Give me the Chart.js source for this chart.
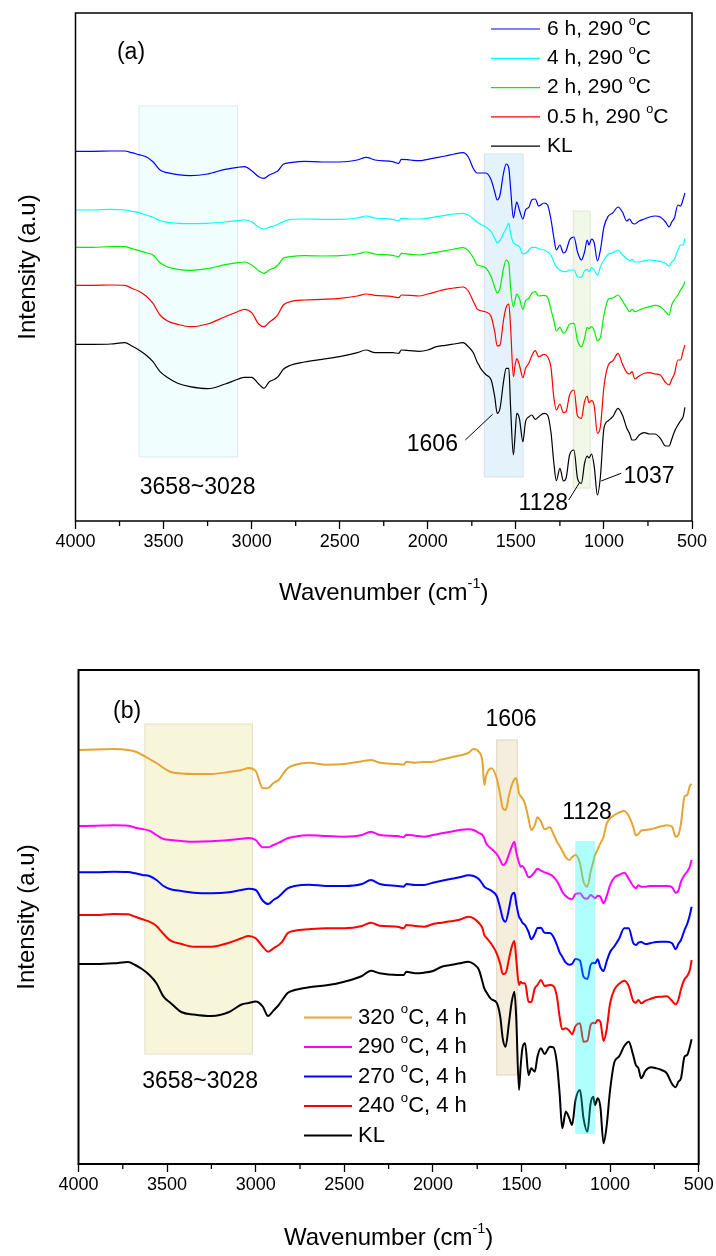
<!DOCTYPE html>
<html><head><meta charset="utf-8">
<script src="https://cdn.jsdelivr.net/npm/chart.js@4.4.1/dist/chart.umd.min.js"></script>
<style>
html,body{margin:0;padding:0;background:#fff;}
#wrap{position:relative;width:716px;height:1256px;background:#fff;}
canvas{position:absolute;left:0;}
</style></head><body>
<div id="wrap">
<canvas id="ca" width="716" height="625" style="top:0;width:716px;height:625px"></canvas>
<canvas id="cb" width="716" height="628" style="top:628px;width:716px;height:628px"></canvas>
</div>
<script>
// ---------- shared wavenumber grid (cm-1) ----------
const wavenumbers = [4000,3900,3800,3720,3680,3640,3600,3560,3520,3480,
3420,3350,3250,3150,3080,3040,3000,2960,2930,2900,
2870,2850,2820,2780,2700,2600,2500,2400,2350,2300,
2200,2165,2150,2100,2050,2000,1950,1900,1850,1800,
1770,1740,1720,1710,1700,1670,1640,1620,1606,1590,
1570,1555,1540,1530,1514,1505,1495,1480,1460,1445,
1425,1410,1390,1370,1340,1320,1300,1285,1270,1250,
1230,1215,1195,1170,1150,1128,1110,1095,1085,1070,
1055,1037,1020,1000,975,950,920,895,870,855,
840,825,800,770,740,710,680,650,630,615,
600,580,565,550,540];

// ---------- panel (a): time series at 290 C (offset intensities, a.u.) ----------
const a_6h = [368.7,368.7,369,369,367.3,365.3,363.3,358.3,350,347.3,
345.3,344.3,346,350.7,352.7,353.3,349.3,343.3,341.7,345,
347.3,349.3,355.7,357.3,358.7,358,358,360,362.7,360,
358.3,356.7,360.7,360,359.3,360.7,362.3,364,366,367.3,
363,351,347,347,347,347,340,328,320,325,
347,356,352,332,302,310,318,310,301,310,
313,320,321,314,317,315,300,283,270,275,
267,269,280,283,268,260,268,280,275,281,
277,259,270,293,304,307,313,308,299,301,
297,296,299,301,303,304,303,298,293,298,
302,315,314,321,327];
const a_4h = [310,310,310.7,310,308.7,307.3,305,302.7,299.3,297.7,
296.7,296.3,296.7,298,299.3,300,298.3,292.7,291,292.7,
294.3,295.7,298.3,300.7,301,300.7,300.7,302,304,302,
300.7,299.3,301.7,301,301,301.7,303.3,304.7,306,306.7,
305,301,298,296.7,295.7,293,288.3,281.7,277.3,279.3,
286.7,291.7,296.7,286.7,277.3,276,275,273.3,266,266.7,
270,272.7,272.7,271.3,270,268,264.7,258.3,253.3,250,
248.3,248.3,250,250,243.3,242.7,249.3,250.7,248.3,252.3,
250,244.7,253.3,260,265.7,267.3,270,265.3,261.3,259.3,
260.3,258,258,259.3,260,259.3,258.7,256.7,254,258,
260.7,270,275,275,281.7];
const a_2h = [272.7,272.7,273.3,273.3,271.3,269.3,267.3,265,257.3,253.3,
250.7,249.7,251.3,255.3,257.3,258,255,249.3,246.7,250,
252.3,255,261.7,263.3,264.3,264,264.3,266,268,266,
264.7,263.3,266.7,265.7,265,266.3,267.7,269.3,271,272.3,
269.3,261.7,255,254.5,254,252,243.3,232.7,227.3,231.7,
251.7,260,256.7,231.7,213.3,219.3,226,221.7,210.7,219.3,
222,226.7,228.3,224,224.7,222.7,210,200,189,192.7,
186.7,189,196,196.7,179.3,173.3,181.7,192.7,191.3,193.3,
189.3,179.3,182.7,205,220.7,222,225,219,212,208.3,
211,208.3,210,212,213.3,214.7,213.3,208.3,205,215,
220,225,230,234,238.3];
const a_05h = [234.7,234.7,235,234.7,231.7,228.7,224,216.7,205,199.3,
195.7,193.3,196,203.3,208.3,210.7,207.3,196,193.3,197.7,
201.7,205.7,215,218.3,220,220.7,221.7,224,226,224.7,
223.3,222.3,225,224.7,224,226,228.3,230.7,232,233,
229,218,211,210,209.3,208,203.3,188.3,174,175,
200,212.7,216,193.3,143.3,154,161.3,155,142.3,151.7,
157.3,164,169.3,163.3,165.7,163.3,151.7,123.3,110,116,
107.3,108.3,125,130,104,101.7,118.3,124,117.3,119.3,
114,86.7,93.3,133.3,155,159,166.7,156,147.3,146,
148.3,141,144,146.7,147.3,146,145,137.3,135,140.7,
146,160,160,169.3,175];
const a_KL = [175.7,175.7,176,177.3,174,170,165,158.3,148.3,142.7,
136.7,133.3,131.3,136,140.7,142.7,142.7,136,131.7,138.3,
140.7,143.3,150.7,154.7,158,160.7,163.3,167.3,170,167.3,
167.3,166.7,170,169.3,168.7,170,173.3,174.7,176,177.3,
173.3,166.7,158,155,151.7,145.3,140,123.3,106.7,111.7,
138.3,151.7,151.7,113.3,65,83.3,106.7,101.7,78.3,98.3,
103.3,105,100.7,103.3,106.7,105,86.7,58.3,39.3,51.7,
39,41.7,65,70,41.7,36.7,56.7,64,62,66,
53.3,25,43.3,91.7,99.3,103.3,111.7,105,91.7,86.7,
80,80,85,87.3,86,86,81.7,74,74,80.7,
88.3,95,99.3,103.3,112.7];

// ---------- panel (b): temperature series, 4 h ----------
const b_320 = [414,414.5,415,414,412.5,409,405,401,396,392,
390.5,390,390,392,394,396,393,375.7,376,381,
384,389,395.7,399,401.3,399.3,400,402.7,404,401.3,
400,399.3,402.3,401.3,402,402.3,404.5,406.5,408.5,411,
415,412,402,379,388,395.7,385.7,369,355.7,354,
369,379,384.7,385.7,370.7,368,365.7,360,345,334,
339,346.7,342.3,334.7,336.7,330,322.3,318,313.3,306.7,
304,306.7,309,300.7,282.3,277.3,292.3,302.3,309,314.7,
320.7,327.3,340,345.7,349,351.3,353,348,337.3,328.7,
330,333.3,334,334.7,336.3,337.7,338.7,337.3,327.3,329,
340.7,367.3,369,378,380];
const b_290 = [338,338.3,338.7,338.3,336.3,335,333.3,329,325,324,
323,322.3,322.7,324,325.3,326,324,316.7,316.7,319,
321.3,323,325.7,327.3,328.7,328,327.3,329,332.3,329,
328,326.7,329.3,328.3,327.3,329,330.7,332.3,334,334.7,
334,331,329,325.7,320.7,315.3,310,304,299,300.7,
310,317.3,322.3,312.3,301.3,297.3,298,294,286.7,288,
292,295.3,293.3,291.7,289.7,287.3,282.7,278,272.3,268,
265.3,264.7,270,270.7,266.3,265.3,269,267.3,265.7,268.3,
267.3,260.7,267.3,279,286.7,289,291.3,285.3,278,275.7,
278.7,277.3,277.3,278,278,278,278,276.7,271.3,273.3,
282.3,289,292.3,297.3,304];
const b_270 = [291.7,291.7,292.3,292,290.7,289,288,284,278,274.7,
273,271.3,270.7,271.7,274,275.3,274,263.3,260,264,
267.3,270.7,275.7,278,279.3,278,278,280,284,280,
278,277.3,280,279,279,281.3,283.3,285,286.7,288.7,
288,284.7,280,277.3,276,273.3,268,255.7,245.7,242.3,
255.7,269,271.3,260.7,247.3,244.7,241.3,239,232,224.7,
230,236,236.3,231.3,231,227.3,219,211.7,207.3,201.3,
199.3,200,205,203.3,187.3,185,199,201.3,200.7,204.7,
196.7,193,202.3,212,218,225,235.7,235.7,221.3,219,
221.3,222,220,221,222,222.3,222.3,220.7,214.7,220,
224,234,240,249,257.3];
const b_240 = [249,249,250,249.7,247.3,244.7,242.3,238,230,223.3,
220,217.3,217.3,221.3,225.7,228,225.7,217.3,212.3,215.7,
219,222.3,230.7,233.3,234.7,235.7,235.7,238,241.3,238.3,
237.3,235.7,239,238,237.3,240,241.3,242.7,244.3,247.3,
245.7,241,235.7,229,226.7,220,210.7,200,190,190.7,
205.7,217.3,223,205.7,179,182.3,180.7,180.7,162.3,162,
175.7,179,184,178,179,178,167.3,147.3,134.7,135.7,
133.3,129.7,138,140.7,122.3,123.3,139,141.3,140.7,144,
142.3,123,134,160.7,174.7,180,183.3,178,163.3,161.3,
164,160.7,163.3,165.3,167,167.3,167.7,163,159.7,164,
174.7,184.7,188,194,204];
const b_KL = [200,200,200.7,202,199,194.7,189,180.7,167.3,161,
152,149.5,148,152,159.5,161,162.4,157.3,148,153.4,
159,164,171,174,176.7,178.7,182.3,188,193.3,190.7,
189,189,192.3,190.7,191.3,193,197.3,199,200.7,202.3,
200,194,182,175.7,172.3,164.7,161.3,147.3,125.7,117.3,
142.3,162.3,172.3,147.3,74,97.3,115.7,120.7,89,95.7,
92.3,107.3,115.7,110,117.3,116.7,100.7,70.7,35.7,52.3,
45.7,39,64,74,45.7,32.3,60.7,67.3,59,65.7,
57.3,20.7,37.3,74,102.3,107.3,118,122.3,109,99,
95.7,85.7,93.3,96.7,95.7,94,90.7,80,76.7,82.3,
85.7,107.3,109,117.3,124.7];

// ---------- labels ----------
const a_labels = ['6 h, 290 °C','4 h, 290 °C','2 h, 290 °C','0.5 h, 290 °C','KL'];
const b_labels = ['320 °C, 4 h','290 °C, 4 h','270 °C, 4 h','240 °C, 4 h','KL'];
const xTicks = [500,1000,1500,2000,2500,3000,3500,4000];
const xTitle = 'Wavenumber (cm^-1)';
const yTitle = 'Intensity (a.u)';

// ---------- helpers ----------
const FONT = '"Liberation Sans", Arial, Helvetica, sans-serif';
Chart.defaults.font.family = FONT;
Chart.defaults.color = '#000';

function parts(text){
  const out = [];
  let s = text;
  const i = s.indexOf('°');
  if (i >= 0) return [{t:s.slice(0,i)},{t:'o',sup:true},{t:s.slice(i+1)}];
  const j = s.indexOf('^');
  if (j >= 0) {
    const k = s.indexOf(')', j);
    return [{t:s.slice(0,j)},{t:s.slice(j+1,k),sup:true},{t:s.slice(k)}];
  }
  return [{t:s}];
}
function drawRich(ctx, text, x, y, size, align){
  const ps = parts(text), ss = size*0.6;
  let w = 0;
  ps.forEach(p=>{ctx.font = (p.sup?ss:size)+'px '+FONT; p.w = ctx.measureText(p.t).width; w += p.w;});
  let cx = align==='center' ? x-w/2 : (align==='right' ? x-w : x);
  ctx.textAlign='left'; ctx.textBaseline='middle'; ctx.fillStyle='#000';
  ps.forEach(p=>{ctx.font=(p.sup?ss:size)+'px '+FONT; ctx.fillText(p.t, cx, p.sup ? y-size*0.36 : y); cx += p.w;});
}
function pts(arr){ return wavenumbers.map((w,i)=>({x:w, y:arr[i]})); }

function decor(cfg){
  return {
    id:'decor',
    beforeDatasetsDraw(chart){
      const {ctx, scales:{x,y}} = chart;
      cfg.boxes.filter(b=>!b.top).forEach(b=>drawBox(ctx,x,y,b));
    },
    afterDatasetsDraw(chart){
      const {ctx, scales:{x,y}} = chart;
      cfg.boxes.filter(b=>b.top).forEach(b=>drawBox(ctx,x,y,b));
    },
    afterDraw(chart){
      const {ctx, chartArea:ca, scales:{x,y}} = chart;
      ctx.save();
      // frame
      ctx.strokeStyle='#000'; ctx.lineWidth=cfg.frameW;
      ctx.strokeRect(ca.left, ca.top, ca.right-ca.left, ca.bottom-ca.top);
      // minor ticks
      ctx.lineWidth=1.3;
      for (let v=750; v<4000; v+=500){
        const px = x.getPixelForValue(v);
        ctx.beginPath(); ctx.moveTo(px, ca.bottom); ctx.lineTo(px, ca.bottom+5); ctx.stroke();
      }
      // annotations
      cfg.texts.forEach(t=>drawRich(ctx, t.text, x.getPixelForValue(t.x), y.getPixelForValue(t.y), t.size, 'center'));
      ctx.lineWidth=1; ctx.strokeStyle='#000';
      cfg.leaders.forEach(l=>{
        ctx.beginPath(); ctx.moveTo(x.getPixelForValue(l[0]), y.getPixelForValue(l[1]));
        ctx.lineTo(x.getPixelForValue(l[2]), y.getPixelForValue(l[3])); ctx.stroke();
      });
      // legend
      const L = cfg.legend;
      chart.data.datasets.slice().sort((a,b)=>a.order2-b.order2).forEach((ds,i)=>{
        const ry = L.y0 + i*L.step;
        ctx.strokeStyle = ds.borderColor; ctx.lineWidth = ds.borderWidth;
        ctx.beginPath(); ctx.moveTo(L.x1, ry); ctx.lineTo(L.x2, ry); ctx.stroke();
        drawRich(ctx, ds.label, L.tx, ry, L.size, 'left');
      });
      // axis titles
      drawRich(ctx, xTitle, (ca.left+ca.right)/2, cfg.xTitleY, 24, 'center');
      ctx.save();
      ctx.translate(cfg.yTitleX, (ca.top+ca.bottom)/2); ctx.rotate(-Math.PI/2);
      drawRich(ctx, yTitle, 0, 0, 24, 'center');
      ctx.restore();
      ctx.restore();
    }
  };
}
function drawBox(ctx,x,y,b){
  const x1=x.getPixelForValue(b.x1), x2=x.getPixelForValue(b.x2);
  const y1=y.getPixelForValue(b.y1), y2=y.getPixelForValue(b.y2);
  ctx.save();
  ctx.fillStyle=b.fill; ctx.fillRect(x1,y2,x2-x1,y1-y2);
  if (b.stroke){ ctx.strokeStyle=b.stroke; ctx.lineWidth=1; ctx.strokeRect(x1,y2,x2-x1,y1-y2); }
  ctx.restore();
}

function makeChart(id, datasets, ymin, ymax, yW, xH, padTop, padRight, lw, cfg){
  return new Chart(document.getElementById(id), {
    type:'line',
    data:{datasets: datasets.map((d,i)=>({label:d.label, data:pts(d.data), borderColor:d.color,
      borderWidth:lw, pointRadius:0, fill:false, tension:0.3, cubicInterpolationMode:'monotone', order2:i}))},
    options:{
      responsive:false, animation:false, events:[],
      layout:{padding:{top:padTop, right:padRight, left:0, bottom:0}},
      plugins:{legend:{display:false}, tooltip:{enabled:false}},
      scales:{
        x:{type:'linear', reverse:true, min:500, max:4000,
          afterBuildTicks: s => { s.ticks = xTicks.map(v=>({value:v})); },
          ticks:{font:{size:18}, color:'#000', padding:2, maxRotation:0, autoSkip:false, callback:v=>String(v)},
          grid:{display:true, drawOnChartArea:false, drawTicks:true, tickLength:8, tickColor:'#000', tickWidth:1.3},
          border:{display:false},
          afterFit: s => { s.height = xH; }},
        y:{min:ymin, max:ymax, ticks:{display:false}, grid:{display:false}, border:{display:false},
          afterFit: s => { s.width = yW; }}
      }
    },
    plugins:[decor(cfg)]
  });
}

// ---------- panel (a) ----------
makeChart('ca', [
  {label:a_labels[0], data:a_6h, color:'#0000ff'},
  {label:a_labels[1], data:a_4h, color:'#00ffff'},
  {label:a_labels[2], data:a_2h, color:'#00ee00'},
  {label:a_labels[3], data:a_05h, color:'#ff0000'},
  {label:a_labels[4], data:a_KL, color:'#000000'}
], -1, 507, 75.5, 104, 13, 24, 1.2, {
  frameW:1.5,
  boxes:[
    {x1:3640, x2:3080, y1:63, y2:414, fill:'#f0fefe', stroke:'#dcebef'},
    {x1:1679, x2:1459, y1:43, y2:366, fill:'#e4f2fc', stroke:'#d2e3ef'},
    {x1:1174, x2:1078, y1:32, y2:309, fill:'#f1f8e8', stroke:'#dce7cf'}
  ],
  texts:[
    {text:'(a)', x:3685, y:467, size:23},
    {text:'3658~3028', x:3307, y:32, size:23},
    {text:'1606', x:1974, y:75, size:23},
    {text:'1128', x:1344, y:16, size:23},
    {text:'1037', x:744, y:43, size:23}
  ],
  leaders:[[1787,80,1632,105.7],[1200,20,1139,37.3],[902,46.7,1016,39]],
  legend:{x1:491, x2:540, tx:547, y0:29, step:29.3, size:21},
  xTitleY:593, yTitleX:28
});

// ---------- panel (b) ----------
makeChart('cb', [
  {label:b_labels[0], data:b_320, color:'#e5a531'},
  {label:b_labels[1], data:b_290, color:'#ff00ff'},
  {label:b_labels[2], data:b_270, color:'#0000ff'},
  {label:b_labels[3], data:b_240, color:'#ff0000'},
  {label:b_labels[4], data:b_KL, color:'#000000'}
], 0, 494, 78.5, 92, 42, 17.3, 2, {
  frameW:2,
  boxes:[
    {x1:3625, x2:3019, y1:110, y2:440, fill:'#f8f6da', stroke:'#e3dfc0'},
    {x1:1640, x2:1524, y1:89, y2:424, fill:'#f6eedc', stroke:'#e0d5bd'},
    {x1:1197, x2:1085, y1:30, y2:323, fill:'rgba(0,255,255,0.31)', top:true}
  ],
  texts:[
    {text:'(b)', x:3726, y:452, size:23},
    {text:'1606', x:1559, y:444, size:23},
    {text:'1128', x:1130, y:351, size:23},
    {text:'3658~3028', x:3314, y:82, size:23}
  ],
  leaders:[],
  legend:{x1:304, x2:352, tx:358, y0:389.5, step:29.5, size:22},
  xTitleY:610, yTitleX:27.5
});
</script></body></html>
